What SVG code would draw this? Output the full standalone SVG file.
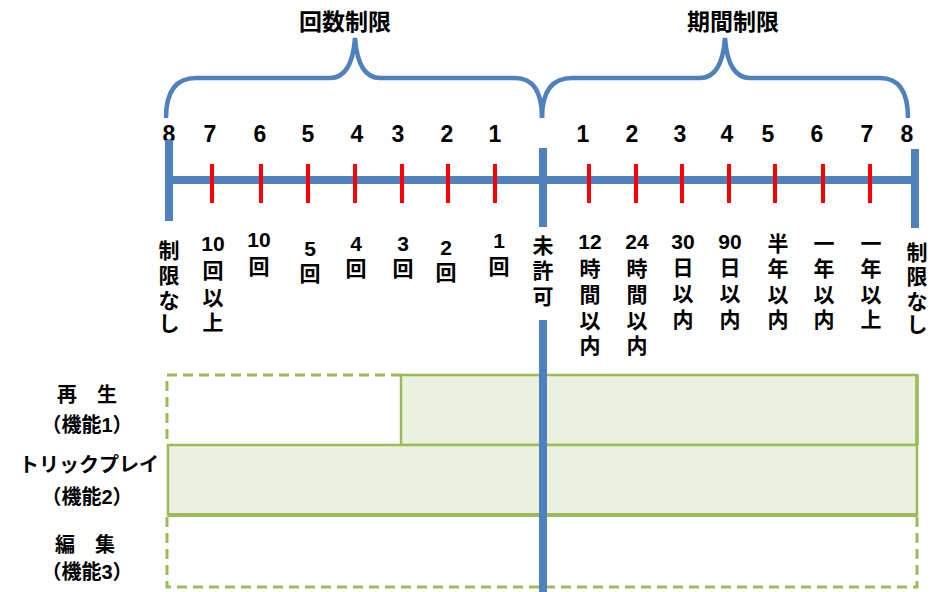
<svg xmlns="http://www.w3.org/2000/svg" width="937" height="592" viewBox="0 0 937 592">
<style>
text{font-family:"Liberation Sans","Noto Sans CJK JP",sans-serif;font-weight:bold;fill:#000;text-anchor:middle}
.t{font-size:23px}
.n{font-size:23px}
.v{font-size:21px}
.lb{font-size:20px}
.brace{fill:none;stroke:#4F81BD;stroke-width:4.5}
.axis{stroke:#4F81BD;stroke-width:8;fill:none}
.tick{stroke:#FF0000;stroke-width:4}
.box{fill:#EBF1DE;stroke:#9BBB59;stroke-width:2.5}
.dash{fill:none;stroke:#9BBB59;stroke-width:3;stroke-dasharray:10 6}
</style>
<rect width="937" height="592" fill="#fff"/>

<g id="titles">
<text class="t" x="345" y="30">回数制限</text>
<text class="t" x="733" y="30">期間制限</text>
</g>

<g id="braces">
<path class="brace" d="M166,118 Q166,78 196,78 L330,78 Q352,78 355,38 Q358,78 380,78 L515,78 Q542,78 542,118"/>
<path class="brace" d="M542,118 Q542,78 572,78 L700,78 Q722,78 725,38 Q728,78 750,78 L880,78 Q908,78 908,118"/>
</g>

<g id="numbers" class="n">
<text x="169" y="142">8</text>
<text x="210" y="142">7</text>
<text x="260" y="142">6</text>
<text x="308" y="142">5</text>
<text x="357" y="142">4</text>
<text x="398" y="142">3</text>
<text x="447" y="142">2</text>
<text x="495" y="142">1</text>
<text x="583" y="142">1</text>
<text x="632" y="142">2</text>
<text x="680" y="142">3</text>
<text x="727" y="142">4</text>
<text x="768" y="142">5</text>
<text x="817" y="142">6</text>
<text x="867" y="142">7</text>
<text x="907" y="142">8</text>
</g>

<g id="boxes">
<rect id="row1" class="box" x="401" y="375" width="516" height="70"/>
<path class="dash" d="M401,375 H167 V445"/>
<rect id="row2" class="box" x="168" y="445" width="749" height="70"/>
<line x1="168" y1="515" x2="917" y2="515" stroke="#9BBB59" stroke-width="4"/>
<line x1="917" y1="375" x2="917" y2="445" stroke="#9BBB59" stroke-width="3.5"/>
<path id="row3" class="dash" d="M167,517 V587 H917 V517"/>
</g>

<g id="axis">
<line class="axis" x1="169" y1="180" x2="915" y2="180"/>
<line class="axis" x1="169" y1="140" x2="169" y2="221"/>
<line class="axis" x1="915" y1="149" x2="915" y2="228"/>
<line class="axis" x1="543" y1="148" x2="543" y2="227"/>
<line class="axis" x1="543" y1="320" x2="543" y2="592"/>
</g>

<g id="ticks" class="tick">
<line x1="212" y1="164" x2="212" y2="203"/>
<line x1="261" y1="164" x2="261" y2="203"/>
<line x1="308" y1="164" x2="308" y2="203"/>
<line x1="355" y1="164" x2="355" y2="203"/>
<line x1="402" y1="164" x2="402" y2="203"/>
<line x1="448" y1="164" x2="448" y2="203"/>
<line x1="495" y1="164" x2="495" y2="203"/>
<line x1="589" y1="164" x2="589" y2="203"/>
<line x1="636" y1="164" x2="636" y2="203"/>
<line x1="682" y1="164" x2="682" y2="203"/>
<line x1="729" y1="164" x2="729" y2="203"/>
<line x1="775" y1="164" x2="775" y2="203"/>
<line x1="823" y1="164" x2="823" y2="203"/>
<line x1="870" y1="164" x2="870" y2="203"/>
</g>

<g id="labels-count" class="v">
<text><tspan x="169" y="258">制</tspan><tspan x="169" y="283">限</tspan><tspan x="169" y="308">な</tspan><tspan x="169" y="331">し</tspan></text>
<text><tspan x="213" y="251">10</tspan><tspan x="213" y="278">回</tspan><tspan x="213" y="305">以</tspan><tspan x="213" y="330">上</tspan></text>
<text><tspan x="259" y="247">10</tspan><tspan x="259" y="274">回</tspan></text>
<text><tspan x="310" y="256">5</tspan><tspan x="310" y="281">回</tspan></text>
<text><tspan x="356" y="251">4</tspan><tspan x="356" y="276">回</tspan></text>
<text><tspan x="403" y="251">3</tspan><tspan x="403" y="276">回</tspan></text>
<text><tspan x="446" y="255">2</tspan><tspan x="446" y="280">回</tspan></text>
<text><tspan x="499" y="248">1</tspan><tspan x="499" y="274">回</tspan></text>
<text><tspan x="543" y="253">未</tspan><tspan x="543" y="278">許</tspan><tspan x="543" y="304">可</tspan></text>
</g>

<g id="labels-period" class="v">
<text><tspan x="590" y="249">12</tspan><tspan x="590" y="276">時</tspan><tspan x="590" y="302">間</tspan><tspan x="590" y="328">以</tspan><tspan x="590" y="353">内</tspan></text>
<text><tspan x="637" y="249">24</tspan><tspan x="637" y="276">時</tspan><tspan x="637" y="302">間</tspan><tspan x="637" y="328">以</tspan><tspan x="637" y="353">内</tspan></text>
<text><tspan x="683" y="249">30</tspan><tspan x="683" y="275">日</tspan><tspan x="683" y="301">以</tspan><tspan x="683" y="327">内</tspan></text>
<text><tspan x="730" y="249">90</tspan><tspan x="730" y="275">日</tspan><tspan x="730" y="301">以</tspan><tspan x="730" y="327">内</tspan></text>
<text><tspan x="778" y="251">半</tspan><tspan x="778" y="276">年</tspan><tspan x="778" y="302">以</tspan><tspan x="778" y="327">内</tspan></text>
<text><tspan x="824" y="251">一</tspan><tspan x="824" y="276">年</tspan><tspan x="824" y="302">以</tspan><tspan x="824" y="327">内</tspan></text>
<text><tspan x="871" y="251">一</tspan><tspan x="871" y="276">年</tspan><tspan x="871" y="302">以</tspan><tspan x="871" y="327">上</tspan></text>
<text><tspan x="917" y="260">制</tspan><tspan x="917" y="284">限</tspan><tspan x="917" y="309">な</tspan><tspan x="917" y="332">し</tspan></text>
</g>

<g id="func1" class="lb">
<text x="87" y="402">再　生</text>
<text x="87" y="432">（機能1）</text>
</g>
<g id="func2" class="lb">
<text x="89" y="472">トリックプレイ</text>
<text x="87" y="504">（機能2）</text>
</g>
<g id="func3" class="lb">
<text x="85" y="552">編　集</text>
<text x="87" y="579">（機能3）</text>
</g>
</svg>
